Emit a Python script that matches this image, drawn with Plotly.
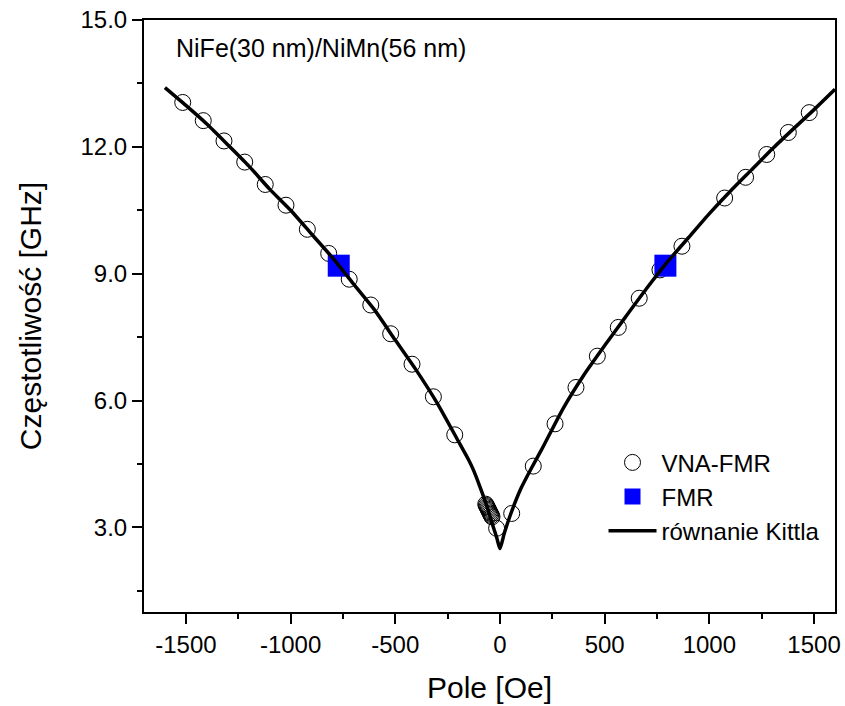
import plotly.graph_objects as go

# VNA-FMR measurement points
vna_x = [-1515, -1417, -1318, -1219, -1121, -1022, -920, -818, -720, -617,
         -522, -420, -318, -216,
         -68, -65, -62, -59, -56, -53, -50, -47, -44, -41, -38, -16,
         56, 159, 263, 363, 465, 565, 665, 764, 869, 1073, 1173, 1274, 1377, 1477]
vna_y = [13.05, 12.62, 12.14, 11.64, 11.11, 10.62, 10.05, 9.48, 8.87, 8.26,
         7.58, 6.86, 6.09, 5.19,
         3.55, 3.52, 3.49, 3.46, 3.43, 3.40, 3.37, 3.34, 3.31, 3.28, 3.25, 2.98,
         3.33, 4.45, 5.45, 6.31, 7.05, 7.73, 8.42, 9.09, 9.65, 10.79, 11.28, 11.82, 12.34, 12.81]

# FMR points
fmr_x = [-770, 790]
fmr_y = [9.19, 9.19]

# Kittel equation curve
kittel_x = [-1600, -1500, -1400, -1300, -1200, -1100, -1000, -900, -800, -700,
            -600, -500, -400, -300, -200, -150, -127, -100, -75, -50, -30, -15, 0,
            20, 50, 100, 150, 200, 300, 400, 500, 600, 700, 800, 900, 1000,
            1100, 1200, 1300, 1400, 1500, 1600]
kittel_y = [13.40, 12.98, 12.54, 12.05, 11.55, 11.00, 10.50, 9.94, 9.38, 8.76,
            8.15, 7.43, 6.72, 5.94, 5.05, 4.60, 4.36, 4.02, 3.68, 3.30, 2.98, 2.75, 2.50,
            2.85, 3.30, 3.92, 4.40, 4.85, 5.80, 6.60, 7.30, 7.98, 8.65, 9.28, 9.85, 10.42,
            10.95, 11.45, 11.95, 12.42, 12.88, 13.36]

x_range = [-1700, 1600]
y_range = [1, 15]
x_ticks = [-1500, -1000, -500, 0, 500, 1000, 1500]
y_ticks = [3, 6, 9, 12, 15]

FONT = "Liberation Sans, Arial, sans-serif"

fig = go.Figure()
fig.add_trace(go.Scatter(
    x=vna_x, y=vna_y, mode="markers", name="VNA-FMR",
    marker=dict(symbol="circle-open", size=16, color="black",
                line=dict(width=1, color="black")),
))
fig.add_trace(go.Scatter(
    x=fmr_x, y=fmr_y, mode="markers", name="FMR",
    marker=dict(symbol="square", size=22, color="#0000ff"),
))
fig.add_trace(go.Scatter(
    x=kittel_x, y=kittel_y, mode="lines", name="równanie Kittla",
    line=dict(color="black", width=3.5, shape="spline", smoothing=0.6),
))

axis_common = dict(
    showline=True, linecolor="black", linewidth=2, mirror=True,
    showgrid=False, zeroline=False, automargin=False,
    ticks="outside", ticklen=10, tickwidth=2, tickcolor="black",
    tickfont=dict(family=FONT, size=24, color="black"),
)

fig.update_xaxes(
    range=x_range, tickvals=x_ticks, ticktext=[str(v) for v in x_ticks],
    minor=dict(dtick=250, tick0=0, ticks="outside", ticklen=5, tickwidth=2, tickcolor="black"),
    title=dict(text="Pole [Oe]", font=dict(family=FONT, size=30, color="black"), standoff=20),
    **axis_common,
)
fig.update_yaxes(
    range=y_range, tickvals=y_ticks, ticktext=[f"{v:.1f}" for v in y_ticks],
    minor=dict(dtick=1.5, tick0=0, ticks="outside", ticklen=5, tickwidth=2, tickcolor="black"),
    title=dict(text="Częstotliwość [GHz]", font=dict(family=FONT, size=30, color="black"), standoff=30),
    **axis_common,
)

fig.add_annotation(
    text="NiFe(30 nm)/NiMn(56 nm)", xref="paper", yref="paper",
    x=0.043, y=0.953, xanchor="left", yanchor="middle", showarrow=False,
    font=dict(family=FONT, size=25, color="black"),
)

fig.update_layout(
    width=845, height=706,
    margin=dict(l=144, r=10, t=20, b=94),
    plot_bgcolor="white", paper_bgcolor="white",
    font=dict(family=FONT, size=24, color="black"),
    showlegend=True,
    hovermode=False,
    legend=dict(x=0.665, y=0.29, xanchor="left", yanchor="top",
                bgcolor="rgba(0,0,0,0)", borderwidth=0,
                font=dict(family=FONT, size=24, color="black"),
                itemwidth=48, tracegroupgap=0),
)

fig.write_html("out.html",
               config={"displayModeBar": False},
               post_script="document.body.style.margin='0';document.body.style.overflow='hidden';")
